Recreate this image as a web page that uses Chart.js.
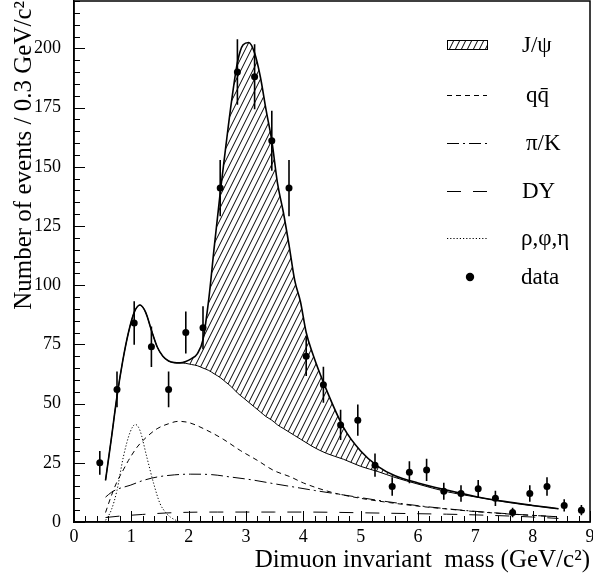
<!DOCTYPE html>
<html>
<head>
<meta charset="utf-8">
<script src="https://cdn.jsdelivr.net/npm/chart.js@4.4.0/dist/chart.umd.min.js"></script>
<style>
    html, body { margin: 0; padding: 0; background: #fff; }
    #dimuonChart { display: block; }
</style>
</head>
<body>
<canvas id="dimuonChart" width="593" height="578"></canvas>
<script>
// measured points (bin centres, 0.3 GeV bins)
const massBins = [0.45, 0.75, 1.05, 1.35, 1.65, 1.95, 2.25, 2.55, 2.85, 3.15, 3.45, 3.75, 4.05, 4.35, 4.65,
    4.95, 5.25, 5.55, 5.85, 6.15, 6.45, 6.75, 7.05, 7.35, 7.65, 7.95, 8.25, 8.55, 8.85];
const eventCounts = [25, 56, 84, 74, 56, 80, 82, 141, 190, 188, 161, 141, 70, 58, 41,
    43, 24, 15, 21, 22, 13, 12, 14, 10, 4, 12, 15, 7, 5];
const countErrors = [5, 7.5, 9.2, 8.6, 7.5, 8.9, 9.1, 11.9, 13.8, 13.7, 12.7, 11.9, 8.4, 7.6, 6.4,
    6.6, 4.9, 3.9, 4.6, 4.7, 3.6, 3.5, 3.7, 3.2, 2, 3.5, 3.9, 2.6, 2.2];

// fit: total and sum of backgrounds (same mass grid, J/psi is the band between them)
const fitMass = [0.55, 0.65, 0.75, 0.85, 0.95, 1.05, 1.15, 1.25, 1.35, 1.45, 1.55, 1.65, 1.75, 1.85,
    1.95, 2.05, 2.15, 2.25, 2.35, 2.45, 2.55, 2.65, 2.75, 2.85, 2.95, 3.05, 3.15, 3.25, 3.35, 3.45,
    3.55, 3.65, 3.75, 3.85, 3.95, 4.05, 4.15, 4.4, 4.7, 5.0, 5.3, 5.6, 6.0, 6.5, 7.0, 7.5, 8.0, 8.45];
const totalFit = [17.6, 35, 53, 68, 80, 88.5, 91.6, 88.5, 81, 74, 70, 68, 67.3, 67.2,
    67.8, 69, 71, 77, 94, 117, 139, 159, 178, 194, 201.5, 202.5, 198, 188, 174, 161,
    143, 131, 117, 102, 93, 80, 72, 56, 40, 30, 23.5, 19.5, 16.5, 13.5, 10.8, 8.7, 7.0, 5.6];
const backgroundSum = [17.6, 35, 53, 68, 80, 88.5, 91.6, 88.5, 81, 74, 70, 68, 67.3, 67.2,
    67.0, 66.5, 66, 65, 64, 62.5, 61, 59, 57, 54.5, 52.5, 50.5, 48.5, 46.5, 44.5, 43,
    41, 39.5, 38, 36.5, 35, 33.5, 32, 29, 26.5, 23.5, 21.3, 18.8, 16, 12.8, 10.6, 8.6, 6.9, 5.6];

// background components
const qqMass = [0.55, 0.65, 0.75, 0.86, 0.95, 1.1, 1.25, 1.45, 1.65, 1.82, 2.0, 2.32, 2.6, 2.9,
    3.2, 3.48, 3.78, 4.0, 4.5, 5.0, 5.5, 6.0, 6.5, 7.0, 7.5, 8.0, 8.45];
const qqValues = [4, 11, 17, 22, 26, 31.6, 35.5, 39.4, 41.5, 42.5, 42, 38.7, 35, 30.2,
    26, 21.8, 19, 16.5, 12.5, 10, 8.2, 6.7, 5.5, 4.4, 3.5, 2.8, 2.2];
const piKMass = [0.55, 0.65, 0.75, 0.98, 1.2, 1.45, 1.75, 2.03, 2.4, 2.73, 3.1, 3.48, 3.78, 4.2,
    4.6, 5.0, 5.4, 6.0, 6.5, 7.0, 7.5, 8.0, 8.45];
const piKValues = [10.5, 12.5, 13.8, 15.5, 17.5, 19, 19.9, 20.2, 20, 19, 17.8, 16.2, 15, 13.3,
    11.8, 10.3, 8.8, 6.9, 5.6, 4.5, 3.6, 2.8, 2.2];
const dyMass = [0.55, 0.8, 1.2, 1.6, 2.0, 2.5, 3.0, 3.5, 4.0, 4.5, 5.0, 5.5, 6.0, 6.5, 7.0, 7.5, 8.0, 8.45];
const dyValues = [1.9, 2.5, 3.2, 3.8, 4.1, 4.2, 4.2, 4.2, 4.2, 4.1, 3.9, 3.7, 3.5, 3.3, 3.0, 2.6, 2.1, 1.5];
const rhoMass = [0.55, 0.65, 0.75, 0.86, 0.98, 1.07, 1.15, 1.27, 1.39, 1.5, 1.6, 1.68, 1.77, 1.85];
const rhoValues = [0.7, 5, 13.4, 27.4, 38, 41.2, 38.7, 27.4, 16.2, 7.8, 4, 2.1, 0.8, 0];

// axes
const xTickValues = [0, 1, 2, 3, 4, 5, 6, 7, 8, 9];
const yTickValues = [0, 25, 50, 75, 100, 125, 150, 175, 200];
const xTitle = 'Dimuon invariant  mass (GeV/c\u00B2)';
const yTitle = 'Number of events / 0.3 GeV/c\u00B2';
const legendLabels = ['J/\u03C8', 'q\u0071\u0304', '\u03C0/K', 'DY', '\u03C1,\u03C6,\u03B7', 'data'];

const SERIF = '"Liberation Serif", "DejaVu Serif", serif';

function toPoints(xs, ys) {
    return xs.map((v, i) => ({ x: v, y: ys[i] }));
}

// hatch pattern for the J/psi band
const tile = document.createElement('canvas');
tile.width = 6;
tile.height = 12;
const tctx = tile.getContext('2d');
tctx.strokeStyle = '#000';
tctx.lineWidth = 1;
tctx.beginPath();
[-6, 0, 6].forEach(function (off) {
    tctx.moveTo(off, 12);
    tctx.lineTo(off + 6, 0);
});
tctx.stroke();
const hatch = tctx.createPattern(tile, 'repeat');

// no extra room for half labels, the frame fills the canvas like the original
function noLabelPadding(scale) {
    scale.paddingLeft = 0;
    scale.paddingRight = 0;
    scale.paddingTop = 0;
    scale.paddingBottom = 0;
}

// inward ticks, frame and error bars
const axisDecor = {
    id: 'axisDecor',
    afterDatasetsDraw(chart) {
        const { ctx, chartArea: a, scales: { x, y } } = chart;
        ctx.save();
        ctx.strokeStyle = '#000';

        // error bars
        ctx.lineWidth = 1.6;
        ctx.beginPath();
        massBins.forEach(function (m, i) {
            const px = x.getPixelForValue(m);
            ctx.moveTo(px, y.getPixelForValue(eventCounts[i] - countErrors[i]));
            ctx.lineTo(px, y.getPixelForValue(eventCounts[i] + countErrors[i]));
        });
        ctx.stroke();

        // ticks
        ctx.lineWidth = 1;
        ctx.beginPath();
        for (let k = 0; k <= 44; k++) {
            const v = k * 5;
            const py = Math.round(y.getPixelForValue(v)) + 0.5;
            const len = (v % 25 === 0) ? 11 : 6;
            ctx.moveTo(a.left, py);
            ctx.lineTo(a.left + len, py);
        }
        for (let k = 0; k <= 45; k++) {
            const px = Math.round(x.getPixelForValue(k * 0.2)) + 0.5;
            const len = (k % 5 === 0) ? 11 : 6;
            ctx.moveTo(px, a.bottom);
            ctx.lineTo(px, a.bottom - len);
        }
        ctx.stroke();

        // frame
        ctx.lineWidth = 1.5;
        ctx.strokeRect(a.left, a.top, a.right - a.left, a.bottom - a.top);
        ctx.restore();
    }
};

// legend in the upper right corner
const legendRows = [
    { ds: 0, kind: 'hatch', y: 45, tx: 522 },
    { ds: 2, kind: 'line', y: 95, tx: 526 },
    { ds: 3, kind: 'line', y: 143, tx: 526 },
    { ds: 4, kind: 'line', y: 191, tx: 522 },
    { ds: 5, kind: 'line', y: 238, tx: 521 },
    { ds: 6, kind: 'point', y: 277, tx: 521 }
];

const cornerLegend = {
    id: 'cornerLegend',
    afterDraw(chart) {
        const ctx = chart.ctx;
        ctx.save();
        ctx.strokeStyle = '#000';
        ctx.fillStyle = '#000';
        legendRows.forEach(function (row) {
            const ds = chart.data.datasets[row.ds];
            if (row.kind === 'hatch') {
                ctx.fillStyle = hatch;
                ctx.fillRect(447, row.y - 4, 40, 8);
                ctx.lineWidth = 1;
                ctx.strokeRect(447.5, row.y - 4.5, 40, 9);
                ctx.fillStyle = '#000';
            } else if (row.kind === 'line') {
                ctx.lineWidth = ds.borderWidth;
                ctx.setLineDash(ds.borderDash || []);
                ctx.beginPath();
                ctx.moveTo(447, row.y + 0.5);
                ctx.lineTo(487, row.y + 0.5);
                ctx.stroke();
                ctx.setLineDash([]);
            } else {
                ctx.beginPath();
                ctx.arc(470, row.y, 4.2, 0, Math.PI * 2);
                ctx.fill();
            }
            ctx.font = '23px ' + SERIF;
            ctx.textBaseline = 'alphabetic';
            ctx.textAlign = 'left';
            ctx.fillText(ds.label, row.tx, row.y + 7);
        });
        ctx.restore();
    }
};

const ctx = document.getElementById('dimuonChart').getContext('2d');

new Chart(ctx, {
    type: 'line',
    data: {
        datasets: [
            {
                label: legendLabels[0],
                data: toPoints(fitMass, totalFit),
                borderColor: '#000',
                borderWidth: 1.6,
                backgroundColor: hatch,
                fill: '+1',
                pointRadius: 0,
                cubicInterpolationMode: 'monotone',
                order: 2
            },
            {
                label: 'background sum',
                data: toPoints(fitMass, backgroundSum),
                borderColor: '#000',
                borderWidth: 1,
                fill: false,
                pointRadius: 0,
                cubicInterpolationMode: 'monotone',
                order: 1
            },
            {
                label: legendLabels[1],
                data: toPoints(qqMass, qqValues),
                borderColor: '#000',
                borderWidth: 1,
                borderDash: [5, 4],
                fill: false,
                pointRadius: 0,
                cubicInterpolationMode: 'monotone',
                order: 3
            },
            {
                label: legendLabels[2],
                data: toPoints(piKMass, piKValues),
                borderColor: '#000',
                borderWidth: 1,
                borderDash: [12, 4, 2, 4],
                fill: false,
                pointRadius: 0,
                cubicInterpolationMode: 'monotone',
                order: 3
            },
            {
                label: legendLabels[3],
                data: toPoints(dyMass, dyValues),
                borderColor: '#000',
                borderWidth: 1,
                borderDash: [14, 12],
                fill: false,
                pointRadius: 0,
                cubicInterpolationMode: 'monotone',
                order: 3
            },
            {
                label: legendLabels[4],
                data: toPoints(rhoMass, rhoValues),
                borderColor: '#000',
                borderWidth: 1,
                borderDash: [1.2, 2],
                fill: false,
                pointRadius: 0,
                cubicInterpolationMode: 'monotone',
                order: 3
            },
            {
                label: legendLabels[5],
                data: toPoints(massBins, eventCounts),
                showLine: false,
                pointRadius: 3.5,
                pointBackgroundColor: '#000',
                pointBorderWidth: 0,
                order: 0
            }
        ]
    },
    options: {
        responsive: false,
        animation: false,
        devicePixelRatio: 1,
        layout: {
            autoPadding: false,
            padding: { left: 0, right: 3, top: 1, bottom: 0 }
        },
        plugins: {
            legend: { display: false },
            tooltip: { enabled: false }
        },
        scales: {
            x: {
                type: 'linear',
                min: 0,
                max: 9,
                grid: { display: false, drawTicks: false },
                border: { color: '#000', width: 1.5 },
                ticks: {
                    color: '#000',
                    font: { family: SERIF, size: 18 },
                    padding: 4,
                    maxRotation: 0,
                    autoSkip: false
                },
                afterBuildTicks: function (scale) {
                    scale.ticks = xTickValues.map(v => ({ value: v }));
                },
                afterFit: function (scale) {
                    scale.height = 56;
                    noLabelPadding(scale);
                },
                title: {
                    display: true,
                    text: xTitle,
                    align: 'end',
                    color: '#000',
                    font: { family: SERIF, size: 25 },
                    padding: { top: 0, bottom: 3 }
                }
            },
            y: {
                type: 'linear',
                min: 0,
                max: 220,
                grid: { display: false, drawTicks: false },
                border: { color: '#000', width: 1.5 },
                ticks: {
                    color: '#000',
                    font: { family: SERIF, size: 18 },
                    padding: 13,
                    autoSkip: false
                },
                afterBuildTicks: function (scale) {
                    scale.ticks = yTickValues.map(v => ({ value: v }));
                },
                afterFit: function (scale) {
                    scale.width = 74;
                    noLabelPadding(scale);
                },
                title: {
                    display: true,
                    text: yTitle,
                    align: 'end',
                    color: '#000',
                    font: { family: SERIF, size: 25 },
                    padding: { top: 9, bottom: 0 }
                }
            }
        }
    },
    plugins: [axisDecor, cornerLegend]
});
</script>
</body>
</html>
